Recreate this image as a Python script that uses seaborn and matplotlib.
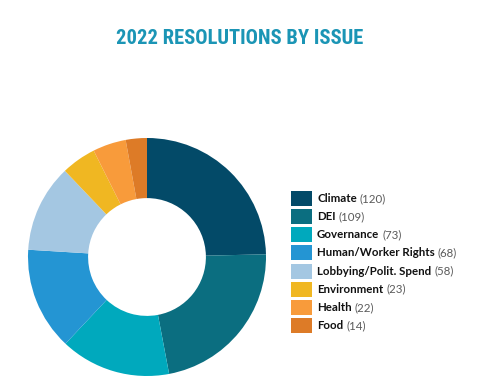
import matplotlib
matplotlib.use("Agg")
import matplotlib.pyplot as plt
import seaborn as sns
from matplotlib.patches import Rectangle
from matplotlib import font_manager

categories = ["Climate", "DEI", "Governance", "Human/Worker Rights",
              "Lobbying/Polit. Spend", "Environment", "Health", "Food"]
values = [120, 109, 73, 68, 58, 23, 22, 14]
colors = ["#034a68", "#0b6e80", "#00a9bd", "#2495d3",
          "#a4c7e2", "#f0b722", "#f89b3b", "#dd7b27"]
title = "2022 RESOLUTIONS BY ISSUE"

sns.set_style("white")
plt.rcParams['font.family'] = ['Lato', 'DejaVu Sans']

names = {f.name for f in font_manager.fontManager.ttflist}
title_family = "DejaVu Sans"
for cand in ["Roboto Condensed", "Liberation Sans Narrow", "DejaVu Sans Condensed"]:
    if cand in names:
        title_family = cand
        break

W, H = 480, 388
fig = plt.figure(figsize=(W / 100, H / 100), dpi=100)

cx, cy, r = 147, 257, 119
ax = fig.add_axes([(cx - r) / W, (H - cy - r) / H, 2 * r / W, 2 * r / H])
ax.pie(values, colors=colors, startangle=90, counterclock=False, radius=1,
       wedgeprops=dict(width=0.505, edgecolor="none"))
ax.set_xlim(-1, 1)
ax.set_ylim(-1, 1)
ax.set_aspect("equal")
ax.axis("off")

tt = fig.text(240 / W, 1 - 38 / H, title, ha="center", va="center",
              fontsize=15.5, fontweight="bold", color="#1b95b5",
              family=[title_family], fontstretch="condensed")

fig.canvas.draw()
renderer = fig.canvas.get_renderer()
# squeeze title to reference width if font is too wide
bbt = tt.get_window_extent(renderer)
target = 246.0
if bbt.width > target * 1.04:
    tt.set_fontsize(15.5 * target / bbt.width)

y0, dy = 198.5, 18.15
for i, (cat, val, col) in enumerate(zip(categories, values, colors)):
    yc = y0 + i * dy
    fig.patches.append(Rectangle((291 / W, 1 - (yc + 7.5) / H), 21 / W, 15 / H,
                                 transform=fig.transFigure, facecolor=col,
                                 edgecolor="none"))
    t = fig.text(317 / W, 1 - yc / H, cat, ha="left", va="center",
                 fontsize=8.3, fontweight="bold", color="#111111")
    bb = t.get_window_extent(renderer)
    fig.text((bb.x1 + 3) / W, 1 - yc / H, f"({val})", ha="left", va="center",
             fontsize=8.3, color="#5a5a5a")

fig.savefig("out.png", dpi=100)
